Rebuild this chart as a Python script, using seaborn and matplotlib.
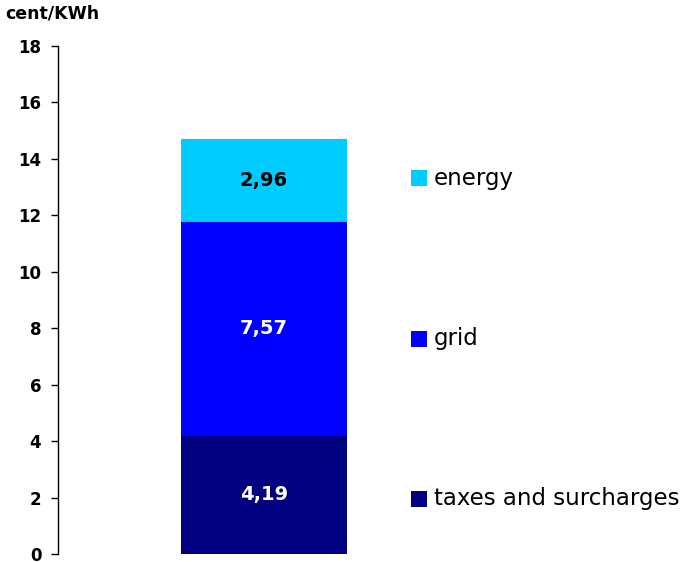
import matplotlib
matplotlib.use("Agg")
import matplotlib.pyplot as plt
import seaborn as sns
import pandas as pd
from matplotlib.patches import Rectangle

# Price components, bottom to top (cent/KWh)
components = ["taxes and surcharges", "grid", "energy"]
values = [4.19, 7.57, 2.96]
value_labels = ["4,19", "7,57", "2,96"]
colors = ["#000080", "#0000FF", "#00CCFF"]
label_colors = ["white", "white", "black"]
y_ticks = [0, 2, 4, 6, 8, 10, 12, 14, 16, 18]

sns.set_theme(style="white")
plt.rcParams["font.family"] = ["DejaVu Sans"]
plt.rcParams["text.color"] = "black"
plt.rcParams["ytick.color"] = "black"

W, H = 694, 562
fig = plt.figure(figsize=(W / 100, H / 100), dpi=100)
ax = fig.add_axes([58 / W, 8 / H, 636 / W, 508 / H])

bottom = 0.0
for name, val, lab, col, lc in zip(components, values, value_labels, colors, label_colors):
    df = pd.DataFrame({"x": ["total"], "y": [val]})
    sns.barplot(data=df, x="x", y="y", color=col, saturation=1, width=0.8,
                bottom=bottom, ax=ax, linewidth=0)
    ax.text(0, bottom + val / 2, lab, ha="center", va="center",
            color=lc, fontsize=14, fontweight="bold")
    bottom += val

ax.set_ylim(0, 18)
ax.set_xlim(-0.9928, 2.072)
ax.set_yticks(y_ticks)
ax.set_yticklabels([str(t) for t in y_ticks], fontsize=12, fontweight="bold",
                   color="black")
ax.set_xticks([])
ax.set_xlabel("")
ax.set_ylabel("")
for side in ["top", "right", "bottom"]:
    ax.spines[side].set_visible(False)
ax.spines["left"].set_color("black")
ax.spines["left"].set_linewidth(1)
ax.tick_params(axis="y", left=True, length=5, width=1, color="black", pad=7)

fig.text(5 / W, 1 - 14 / H, "cent/KWh", ha="left", va="center",
         fontsize=12.5, fontweight="bold", color="black")

# Legend: colour square plus label, top entry first
legend_rows = [178, 339, 499]
for row, name, col in zip(legend_rows, components[::-1], colors[::-1]):
    fig.patches.append(Rectangle((411 / W, 1 - (row + 8) / H), 16 / W, 16 / H,
                                 transform=fig.transFigure, facecolor=col,
                                 edgecolor="none"))
    fig.text(434 / W, 1 - row / H, name, ha="left", va="center",
             fontsize=16.5, color="black")

fig.savefig("out.png", dpi=100)
